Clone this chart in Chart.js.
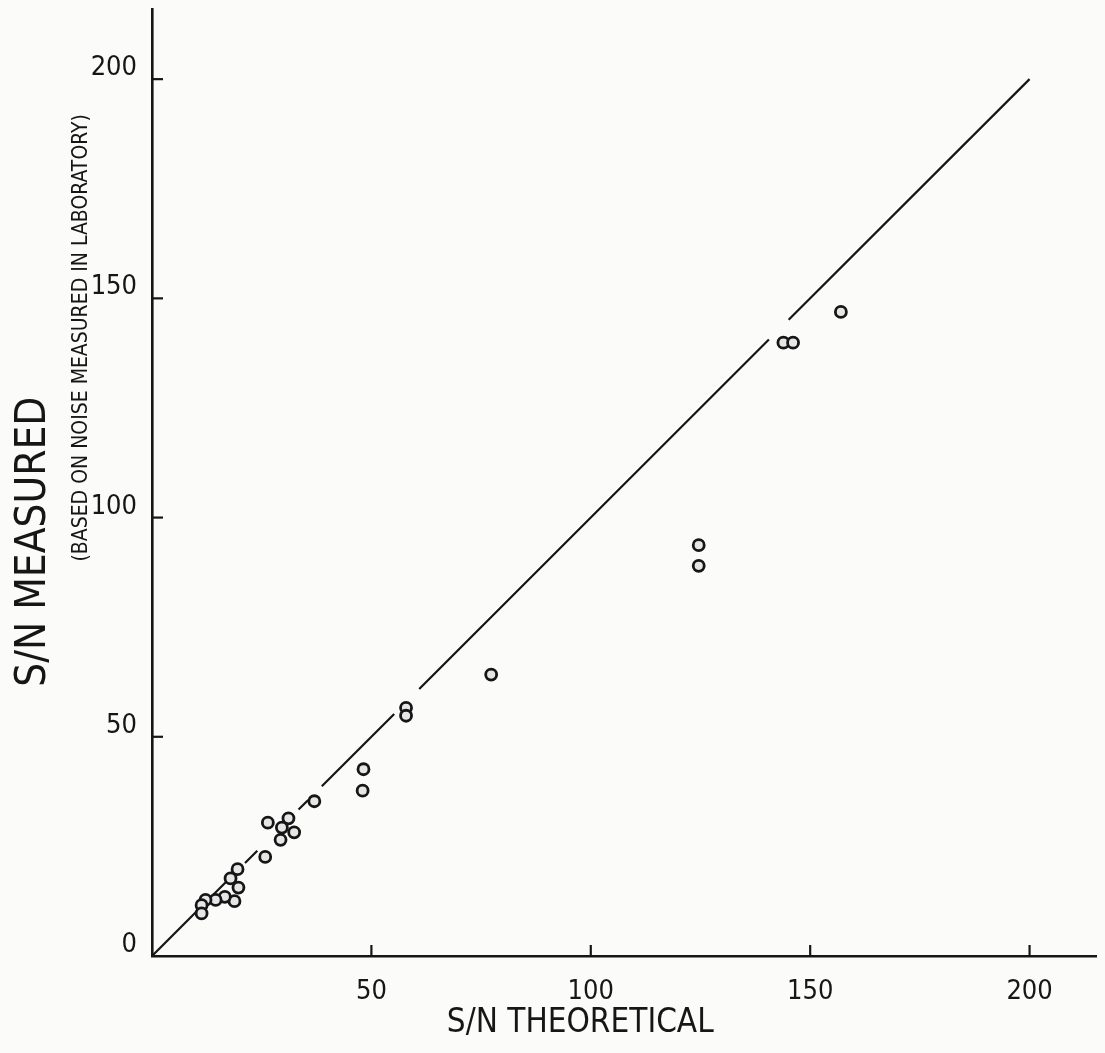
<!DOCTYPE html>
<html>
<head>
<meta charset="utf-8">
<script src="https://cdn.jsdelivr.net/npm/chart.js@4.4.1/dist/chart.umd.min.js"></script>
<style>
  html, body { margin: 0; padding: 0; background: #fbfbfa; }
  #wrap { width: 1105px; height: 1053px; position: relative; }
  canvas { display: block; }
</style>
</head>
<body>
<div id="wrap"><canvas id="c" width="1105" height="1053"></canvas></div>
<script>
// ---- Data ----
const snTheoretical = [157.0, 143.9, 146.1, 124.6, 124.6, 77.3, 57.9, 57.9, 48.2, 48.0,
                       37.0, 26.4, 31.1, 29.6, 32.4, 29.3, 25.8, 19.5, 17.9, 19.7,
                       18.8, 16.6, 14.5, 12.2, 11.3, 11.3];
const snMeasured    = [146.9, 139.9, 139.9, 93.7, 89.0, 64.2, 56.6, 54.8, 42.6, 37.7,
                       35.3, 30.4, 31.4, 29.3, 28.2, 26.5, 22.6, 19.8, 17.7, 15.6,
                       12.5, 13.5, 12.8, 12.8, 11.6, 9.7];
// 1:1 reference line, drawn in pieces (broken where the circles sit)
const refLineStarts = [0, 21.2, 33.4, 38.7, 60.9, 145.1];
const refLineEnds   = [18, 24, 35.6, 55.2, 140.6, 200];
const xTickValues = [50, 100, 150, 200];
const yTickValues = [0, 50, 100, 150, 200];
const xTitle = 'S/N THEORETICAL';
const yTitle = 'S/N MEASURED';
const ySubTitle = '(BASED ON NOISE MEASURED IN LABORATORY)';

const FONT = "'Liberation Sans Narrow', 'DejaVu Sans Condensed', 'Liberation Sans', sans-serif";
const INK = '#161616';

const points = snTheoretical.map((x, i) => ({ x: x, y: snMeasured[i] }));
const refLine = [];
refLineStarts.forEach((s, i) => {
  refLine.push({ x: s, y: s });
  refLine.push({ x: refLineEnds[i], y: refLineEnds[i] });
  if (i < refLineStarts.length - 1) refLine.push({ x: (refLineEnds[i] + refLineStarts[i + 1]) / 2, y: null });
});

const decorPlugin = {
  id: 'decor',
  afterDraw(chart) {
    const ctx = chart.ctx;
    const xs = chart.scales.x, ys = chart.scales.y;
    const ca = chart.chartArea;
    ctx.save();
    // inward tick marks
    ctx.strokeStyle = INK;
    ctx.lineWidth = 2.2;
    xTickValues.forEach(v => {
      const px = xs.getPixelForValue(v);
      ctx.beginPath(); ctx.moveTo(px, ca.bottom); ctx.lineTo(px, ca.bottom - 11); ctx.stroke();
    });
    yTickValues.forEach(v => {
      if (v === 0) return;
      const py = ys.getPixelForValue(v);
      ctx.beginPath(); ctx.moveTo(ca.left, py); ctx.lineTo(ca.left + 11, py); ctx.stroke();
    });
    // axis titles
    ctx.fillStyle = INK;
    ctx.textAlign = 'center';
    ctx.textBaseline = 'middle';
    ctx.font = '33px ' + FONT;
    ctx.fillText(xTitle, xs.getPixelForValue(97.6), ca.bottom + 67);
    ctx.save();
    ctx.translate(34, ys.getPixelForValue(94.5));
    ctx.rotate(-Math.PI / 2);
    ctx.font = '42px ' + FONT;
    ctx.fillText(yTitle, 0, 0);
    ctx.restore();
    ctx.save();
    ctx.translate(82, ys.getPixelForValue(141));
    ctx.rotate(-Math.PI / 2);
    ctx.font = '21px ' + FONT;
    ctx.fillText(ySubTitle, 0, 0);
    ctx.restore();
    ctx.restore();
  }
};

function zeroPad(s) { s.paddingTop = 0; s.paddingBottom = 0; s.paddingLeft = 0; s.paddingRight = 0; }

new Chart(document.getElementById('c'), {
  type: 'scatter',
  data: {
    datasets: [
      {
        label: 'S/N',
        data: points,
        pointStyle: 'circle',
        pointRadius: 5.5,
        pointBorderWidth: 2.8,
        borderColor: INK,
        backgroundColor: '#e6e6e6',
        order: 0
      },
      {
        label: '1:1',
        type: 'line',
        data: refLine,
        borderColor: INK,
        borderWidth: 2.2,
        pointRadius: 0,
        spanGaps: false,
        fill: false,
        order: 1
      }
    ]
  },
  options: {
    responsive: false,
    animation: false,
    devicePixelRatio: 1,
    layout: { padding: { top: 9, right: 0, left: 0, bottom: 0 } },
    plugins: { legend: { display: false }, tooltip: { enabled: false }, title: { display: false } },
    scales: {
      x: {
        type: 'linear',
        min: 0, max: 215.3,
        grid: { display: false, drawTicks: false },
        border: { display: true, color: INK, width: 2.6 },
        ticks: { font: { family: FONT, size: 27 }, color: INK, padding: 20, maxRotation: 0 },
        afterBuildTicks: s => { s.ticks = xTickValues.map(v => ({ value: v })); },
        afterFit: s => { s.height = 97; zeroPad(s); }
      },
      y: {
        type: 'linear',
        min: 0, max: 216,
        grid: { display: false, drawTicks: false },
        border: { display: true, color: INK, width: 2.6 },
        ticks: { font: { family: FONT, size: 27 }, color: INK, padding: 15, labelOffset: -11 },
        afterBuildTicks: s => { s.ticks = yTickValues.map(v => ({ value: v })); },
        afterFit: s => { s.width = 152; zeroPad(s); }
      }
    }
  },
  plugins: [decorPlugin]
});
</script>
</body>
</html>
